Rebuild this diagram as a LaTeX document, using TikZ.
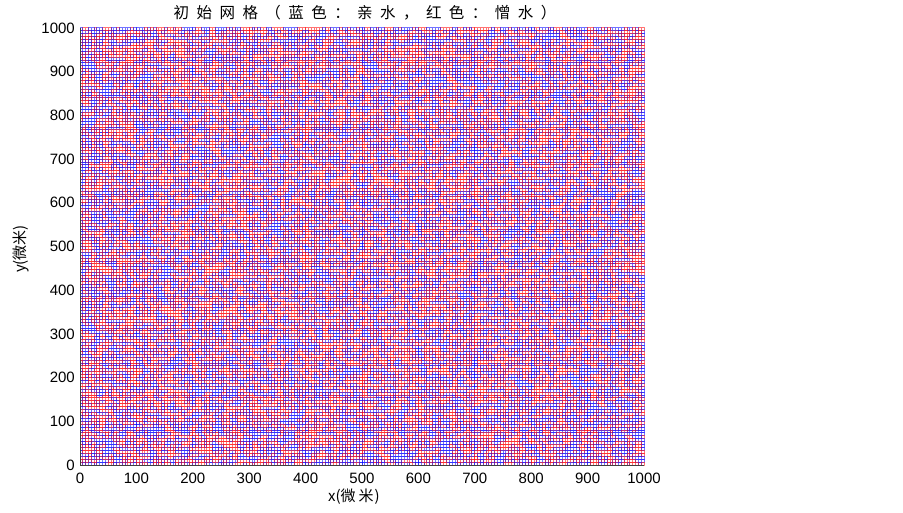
\documentclass[tikz,border=0pt]{standalone}
\usepackage{fontspec}
\setmainfont{Liberation Sans}
\newfontfamily\cjk{Noto Sans CJK SC}[LetterSpace=48]
\newfontfamily\cjkn{Noto Sans CJK SC}
\foreach \n in {1,...,12}{\expandafter\newsavebox\csname tileT\n\endcsname}
\newcommand\buildrow[1]{%
  \gdef\rlist{}\gdef\blist{}%
  \foreach \i in {0,...,19}{%
    \pgfmathrnd
    \ifdim\pgfmathresult pt<0.5pt
      \xdef\rlist{\unexpanded\expandafter{\rlist}(\i,#1) rectangle ++(1,1)}%
    \else
      \xdef\blist{\unexpanded\expandafter{\blist}(\i,#1) rectangle ++(1,1)}%
    \fi
  }%
}
\tikzset{
  rc/.style={draw=red,line width=1.0pt,line join=round},
  bc/.style={draw=blue,line width=1.0pt,line join=round}}
\pgfmathsetseed{7}
\foreach \n in {1,...,12}{%
  \global\setbox\csname tileT\n\endcsname=\hbox{%
    \begin{tikzpicture}[x=2.82pt,y=2.91333pt]
      \useasboundingbox (0,0) rectangle (20,15);
      \begin{scope}[draw opacity=0.55]
      \foreach \j in {0,...,14}{
        \buildrow{\j}
        \pgfmathrnd
        \ifdim\pgfmathresult pt<0.5pt
          \draw[rc] \rlist;
          \draw[bc] \blist;
        \else
          \draw[bc] \blist;
          \draw[rc] \rlist;
        \fi
      }
      \end{scope}
    \end{tikzpicture}}%
}
\begin{document}
\begin{tikzpicture}[x=1pt,y=1pt,
  tile/.style={inner sep=0pt,outer sep=0pt,anchor=center},
  tick/.style={font=\fontsize{15}{15}\selectfont,inner sep=0pt},
  axisline/.style={draw=black!75,line width=0.6pt}]
\useasboundingbox (0,0) rectangle (903,512);
\fill[white] (0,0) rectangle (903,512);
\coordinate (O) at (80,47);
\coordinate (XE) at (644,47);
\coordinate (YE) at (80,484);
\pgfmathsetseed{11}
\foreach \a in {0,...,9}{
  \foreach \b in {0,...,9}{
    \pgfmathrandominteger{\r}{1}{12}
    \pgfmathrandominteger{\sx}{0}{1}
    \pgfmathrandominteger{\sy}{0}{1}
    \pgfmathsetmacro{\fx}{2*\sx-1}
    \pgfmathsetmacro{\fy}{2*\sy-1}
    \node[tile] (t\a-\b) at (80+56.4*\a+28.2,47+43.7*\b+21.85)
      {\scalebox{\fx}[\fy]{\usebox{\csname tileT\r\endcsname}}};
  }
}
\draw[axisline] (YE) -- (O) -- (XE);
\foreach \v [count=\k from 0] in {0,100,...,1000}{
  \node[tick,anchor=north] (xt\k) at (80+56.4*\k,39) {\v};
  \node[tick,anchor=east] (yt\k) at (75,47+43.7*\k) {\v};
}
\node[font=\fontsize{15.5}{15.5}\selectfont\cjk,inner sep=0pt] (title) at (365,499) {初始网格（蓝色：亲水，红色：憎水）};
\node[font=\fontsize{15}{15}\selectfont\cjkn,inner sep=0pt] (xlab) at (354,15) {x(微\hspace{3pt}米\hspace{1pt})};
\node[font=\fontsize{15}{15}\selectfont\cjkn,inner sep=0pt,rotate=90] (ylab) at (21,263) {y(微米)};
\end{tikzpicture}
\end{document}
